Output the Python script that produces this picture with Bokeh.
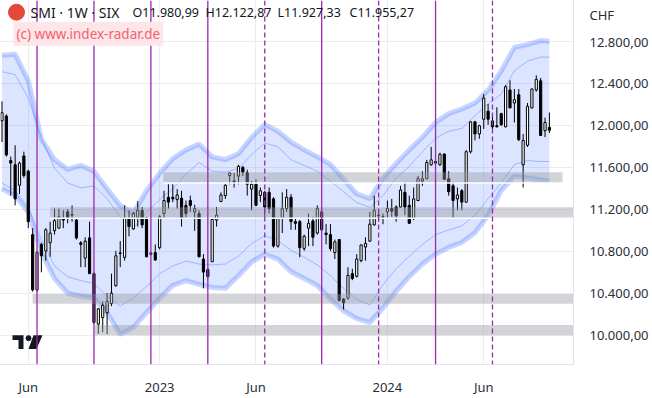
import pandas as pd
from bokeh.plotting import figure
from bokeh.models import Range1d, FixedTicker, Span, Label
from bokeh.embed import file_html
from bokeh.resources import INLINE

# ---------------- data ----------------
first_week = "2022-04-25"
opens = [12044, 12090, 11666, 11625, 11430, 11709, 11563, 10959, 10432, 10866,
         10804, 10881, 10996, 11021, 11114, 11176, 11150, 11098, 10881, 10735,
         10928, 10587, 10106, 10168, 10214, 10302, 10472, 10785, 10742, 11114,
         11014, 11123, 11191, 11120, 10782, 10788, 10835, 11160, 11315, 11315,
         11293, 11306, 11238, 11284, 11176, 11160, 10726, 10625, 10700, 11098,
         11275, 11331, 11522, 11470, 11517, 11600, 11548, 11393, 11439, 11331,
         11362, 11362, 11300, 10850, 11114, 11207, 11315, 11083, 11083, 10828,
         11021, 11089, 10974, 11176, 10974, 10959, 10788, 10912, 10345, 10354,
         10587, 10562, 10711, 10841, 10897, 11052, 11140, 11130, 11176, 11207,
         11222, 11222, 11362, 11238, 11114, 11284, 11470, 11492, 11625, 11656,
         11625, 11727, 11492, 11424, 11300, 11377, 11268, 11749, 12034, 11919,
         12059, 12136, 12043, 11997, 12112, 11987, 12338, 12214, 12292, 11625,
         11811, 12167, 12338, 12425, 11950, 11980.99]
highs = [12230, 12106, 11703, 11811, 11656, 11750, 11579, 11021, 10804, 10881,
         11021, 11083, 11207, 11207, 11191, 11201, 11238, 11114, 10897, 10934,
         11083, 10600, 10261, 10323, 10401, 10587, 10804, 10897, 11238, 11191,
         11176, 11278, 11222, 11129, 10795, 10866, 11145, 11377, 11439, 11439,
         11393, 11377, 11284, 11331, 11244, 11191, 10773, 10640, 11114, 11222,
         11362, 11439, 11548, 11547, 11625, 11615, 11578, 11470, 11486, 11408,
         11377, 11408, 11315, 11120, 11362, 11393, 11346, 11114, 11098, 10959,
         11160, 11129, 11238, 11207, 11059, 11059, 10912, 10912, 10354, 10649,
         10633, 10773, 10866, 10934, 11176, 11331, 11191, 11160, 11284, 11300,
         11238, 11424, 11461, 11331, 11408, 11517, 11563, 11672, 11796, 11687,
         11740, 11734, 11563, 11461, 11408, 11393, 11764, 12043, 12043, 12006,
         12298, 12205, 12099, 12174, 12121, 12385, 12431, 12347, 12347, 11919,
         12214, 12353, 12478, 12453, 12074, 12122.87]
lows = [11842, 11703, 11331, 11238, 11346, 11501, 11021, 10416, 10416, 10600,
        10711, 10748, 10959, 11014, 11021, 11067, 11083, 10912, 10649, 10649,
        10587, 10106, 10013, 10028, 10010, 10277, 10463, 10649, 10711, 10943,
        11005, 11036, 11021, 10742, 10760, 10711, 10819, 11114, 11207, 11269,
        11207, 11036, 11114, 11176, 10996, 10742, 10447, 10540, 10700, 11036,
        11269, 11300, 11439, 11408, 11439, 11517, 11331, 11191, 11231, 11269,
        11129, 11160, 10835, 10835, 10974, 11176, 11005, 11005, 10742, 10804,
        10850, 10850, 10959, 10990, 10866, 10804, 10726, 10323, 10246, 10339,
        10525, 10550, 10695, 10711, 10890, 11045, 11083, 11058, 11114, 11129,
        11083, 11216, 11145, 11067, 11098, 11278, 11424, 11486, 11616, 11635,
        11616, 11480, 11331, 11114, 11191, 11191, 11268, 11733, 11857, 11873,
        11966, 12006, 11957, 11981, 11997, 11981, 12167, 12028, 11851, 11408,
        11795, 12161, 12322, 11898, 11888, 11927.33]
closes = [12121, 11718, 11641, 11300, 11641, 11523, 11083, 10432, 10790, 10757,
          11005, 10974, 11092, 11129, 11098, 11123, 11145, 10928, 10866, 10897,
          10587, 10122, 10252, 10286, 10323, 10401, 10757, 10779, 11114, 11036,
          11160, 11191, 11052, 10748, 10773, 10717, 11129, 11284, 11269, 11300,
          11337, 11120, 11160, 11238, 11207, 10748, 10602, 10560, 11104, 11145,
          11337, 11430, 11547, 11455, 11610, 11556, 11439, 11439, 11238, 11377,
          11222, 11207, 10850, 11114, 11207, 11315, 11083, 11067, 10835, 10943,
          11067, 10934, 11207, 11005, 10959, 10826, 10890, 10330, 10308, 10571,
          10540, 10726, 10860, 10875, 11059, 11191, 11145, 11125, 11207, 11182,
          11139, 11384, 11222, 11067, 11300, 11492, 11492, 11647, 11672, 11641,
          11725, 11486, 11368, 11284, 11337, 11269, 11749, 12034, 11919, 11997,
          12260, 12059, 11987, 11987, 12006, 12369, 12167, 12245, 11864, 11857,
          12183, 12347, 12440, 11904, 12028, 11955.27]

# envelope bands, sampled every third week (index into the weekly bars)
band_idx = [0, 3, 6, 9, 12, 15, 18, 21, 24, 27, 30, 33, 36, 39, 42, 45, 48, 51, 54, 57,
            60, 63, 66, 69, 72, 75, 78, 81, 84, 87, 90, 93, 96, 99, 102, 105, 108, 111,
            114, 117, 120, 123, 125]
upper_outer = [12670, 12679, 12428, 11869, 11674, 11581, 11619, 11563, 11395, 11237,
               11163, 11377, 11544, 11684, 11767, 11823, 11702, 11674, 11730, 11888,
               12009, 11944, 11842, 11767, 11702, 11628, 11488, 11349, 11302, 11498,
               11637, 11767, 11888, 12028, 12112, 12158, 12214, 12335, 12521, 12744,
               12772, 12809, 12800]
upper_inner = [12512, 12484, 12260, 11888, 11591, 11451, 11405, 11423, 11302, 11126,
               11023, 11172, 11293, 11395, 11535, 11647, 11563, 11554, 11591, 11721,
               11833, 11795, 11674, 11619, 11563, 11470, 11367, 11265, 11219, 11330,
               11498, 11609, 11749, 11879, 11944, 11972, 12093, 12205, 12298, 12521,
               12614, 12651, 12651]
lower_inner = [11451, 11377, 11219, 10912, 10660, 10558, 10521, 10493, 10372, 10279,
               10354, 10465, 10586, 10660, 10707, 10679, 10670, 10679, 10754, 10874,
               10949, 10902, 10809, 10744, 10670, 10568, 10447, 10344, 10288, 10484,
               10633, 10754, 10865, 10958, 11005, 11042, 11144, 11302, 11451, 11628,
               11665, 11656, 11656]
lower_outer = [11395, 11330, 11172, 10791, 10540, 10400, 10372, 10354, 10214, 10009,
               10075, 10214, 10354, 10475, 10521, 10484, 10456, 10447, 10568, 10698,
               10772, 10726, 10605, 10540, 10475, 10344, 10233, 10158, 10121, 10260,
               10419, 10558, 10679, 10772, 10837, 10884, 10977, 11144, 11377, 11516,
               11498, 11479, 11470]

# horizontal support / resistance zones
zone_low = [11451, 11116, 10300, 10000]
zone_high = [11553, 11219, 10393, 10098]
zone_start = ["2023-01-08", "2022-07-11", "2022-06-13", "2022-09-20"]
zone_end = ["2024-10-07", None, None, None]
zone_white_edge = [True, True, False, False]

# quarterly expiry lines
vline_dates = ["2022-06-20", "2022-09-19", "2022-12-19", "2023-03-20", "2023-06-19",
               "2023-09-18", "2023-12-18", "2024-03-18", "2024-06-17"]
vline_dashed = [False, False, False, False, True, False, True, False, True]

# axes
x_tick_dates = ["2022-06-06", "2023-01-02", "2023-06-05", "2024-01-01", "2024-06-03"]
x_tick_labels = ["Jun", "2023", "Jun", "2024", "Jun"]
y_ticks = [10000, 10400, 10800, 11200, 11600, 12000, 12400, 12800]

title_text = "SMI · 1W · SIX"
copyright_text = "(c) www.index-radar.de"
currency = "CHF"

# ---------------- helpers ----------------
def ms(d):
    return pd.Timestamp(d).value / 1e6

WEEK = 7 * 24 * 3600 * 1000
dates = pd.date_range(first_week, periods=len(opens), freq="7D")
t0 = ms(first_week)
X0 = t0 - 0.34 * WEEK
X1 = t0 + 130.5 * WEEK
Y0, Y1 = 9721, 13191
FW, FH = 573, 373          # plot frame in px

def fmt(v):
    return f"{v:,.2f}".replace(",", "X").replace(".", ",").replace("X", ".")

# pixel position (from the frame's top-left) -> data units
def PX(x):
    return X0 + x / FW * (X1 - X0)

def PY(y):
    return Y1 - y / FH * (Y1 - Y0)

FONT = "Noto Sans"

p = figure(width=652, height=398, x_axis_type="datetime", y_axis_location="right",
           output_backend="svg", toolbar_location=None,
           x_range=Range1d(X0, X1), y_range=Range1d(Y0, Y1),
           min_border_left=0, min_border_top=0, min_border_right=652 - FW,
           min_border_bottom=398 - FH)
p.outline_line_color = None
p.background_fill_color = "white"
p.border_fill_color = "white"

# grid / axes (the currency name sits at the top of the price scale)
currency_pos = PY(15)
p.xaxis.ticker = FixedTicker(ticks=[ms(d) for d in x_tick_dates])
p.yaxis.ticker = FixedTicker(ticks=y_ticks + [currency_pos])
p.ygrid.ticker = FixedTicker(ticks=y_ticks)
p.xgrid.grid_line_color = "#ececef"
p.ygrid.grid_line_color = "#ececef"
y_over = {t: fmt(t) for t in y_ticks}
y_over[currency_pos] = currency
p.yaxis.major_label_overrides = y_over
p.xaxis.major_label_overrides = {int(ms(d)): l for d, l in zip(x_tick_dates, x_tick_labels)}
for ax in (p.xaxis, p.yaxis):
    ax.axis_line_color = "#e0e3eb"
    ax.major_tick_line_color = None
    ax.minor_tick_line_color = None
    ax.major_label_text_font = FONT
    ax.major_label_text_font_size = "13px"
    ax.major_label_text_color = "#2a2e39"
p.yaxis.major_label_standoff = 10
p.xaxis.major_label_standoff = 7

# bands
bx = [dates[i] for i in band_idx]
p.varea(x=bx, y1=lower_outer, y2=upper_outer, fill_color="#2962ff", fill_alpha=0.17)
p.line(bx, upper_outer, line_color="#2962ff", line_alpha=0.26, line_width=5)
p.line(bx, lower_outer, line_color="#2962ff", line_alpha=0.26, line_width=5)
p.line(bx, upper_inner, line_color="#2962ff", line_alpha=0.35, line_width=1)
p.line(bx, lower_inner, line_color="#2962ff", line_alpha=0.35, line_width=1)

# candles
tops = [max(o, c) for o, c in zip(opens, closes)]
bots = [min(o, c) for o, c in zip(opens, closes)]
fills = ["white" if c >= o else "black" for o, c in zip(opens, closes)]
p.segment(x0=dates, y0=lows, x1=dates, y1=highs, line_color="black", line_width=1)
p.vbar(x=dates, width=0.5 * WEEK, top=tops, bottom=bots, fill_color=fills,
       line_color="black", line_width=1)

# zones
zl = [ms(s) for s in zone_start]
zr = [ms(e) if e else X1 for e in zone_end]
p.quad(left=zl, right=zr, bottom=zone_low, top=zone_high, fill_color="#9598a1",
       fill_alpha=0.42, line_color=None)
for l, r, lo, w in zip(zl, zr, zone_low, zone_white_edge):
    if w:
        p.segment(x0=[l], y0=[lo], x1=[r], y1=[lo], line_color="white", line_width=1.5)

# vertical lines
for d, dashed in zip(vline_dates, vline_dashed):
    p.add_layout(Span(location=ms(d), dimension="height", line_color="#9c27b0",
                      line_width=1.3, line_dash="5 3" if dashed else "solid"))

# header
p.scatter(x=[PX(16)], y=[PY(12)], size=16, color="#e5483b")
p.add_layout(Label(x=PX(30), y=PY(12), text=title_text, text_baseline="middle",
                   text_font=FONT, text_font_size="14px", text_color="#131722"))
ohlc = [("O", opens[-1]), ("H", highs[-1]), ("L", lows[-1]), ("C", closes[-1])]
for (k, v), xp in zip(ohlc, [132, 205, 277, 349]):
    p.add_layout(Label(x=PX(xp), y=PY(12), text=f"{k}{fmt(v)}", text_baseline="middle",
                       text_font=FONT, text_font_size="12.5px", text_color="#131722"))
p.add_layout(Label(x=PX(13), y=PY(34), text=copyright_text, text_baseline="middle",
                   text_font=FONT, text_font_size="13.5px", text_color="#f4606c",
                   background_fill_color="#fde6e8", padding=3))

# TradingView mark
p.patches(xs=[[PX(12), PX(23), PX(23), PX(18), PX(18), PX(12)],
              [PX(33), PX(42), PX(36), PX(28)]],
          ys=[[PY(343), PY(343), PY(357), PY(357), PY(348), PY(348)],
              [PY(343), PY(343), PY(357), PY(357)]],
          fill_color="#131722", line_color=None)
p.scatter(x=[PX(28)], y=[PY(346)], size=5, color="#131722")

open("out.html", "w").write(file_html(p, INLINE))
